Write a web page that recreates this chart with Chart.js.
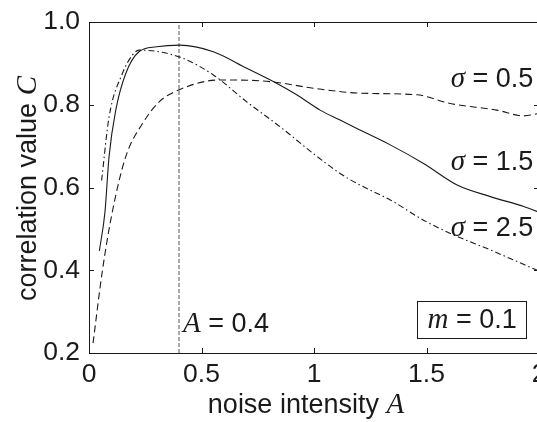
<!DOCTYPE html>
<html>
<head>
<meta charset="utf-8">
<script src="https://cdn.jsdelivr.net/npm/chart.js@4.4.1/dist/chart.umd.min.js"></script>
<style>
    html, body { margin: 0; padding: 0; background: #fff; overflow: hidden; }
    #wrap { width: 537px; height: 422px; overflow: hidden; }
</style>
</head>
<body>
<div id="wrap"><canvas id="chart" width="548" height="422"></canvas></div>
<script>
// values: noise intensity A and correlation value C per curve
const sigma05A = [0.018, 0.059, 0.104, 0.163, 0.237, 0.312, 0.404, 0.582, 0.804, 0.997, 1.204, 1.458, 1.606, 1.813, 1.932, 2.0];
const sigma05C = [0.224, 0.397, 0.542, 0.674, 0.754, 0.807, 0.837, 0.860, 0.856, 0.840, 0.828, 0.824, 0.803, 0.787, 0.773, 0.779];

const sigma15A = [0.046, 0.071, 0.089, 0.119, 0.163, 0.222, 0.30, 0.404, 0.553, 0.701, 0.819, 0.923, 1.027, 1.116, 1.204, 1.339, 1.487, 1.636, 1.784, 1.932, 2.0];
const sigma15C = [0.447, 0.541, 0.674, 0.787, 0.875, 0.928, 0.940, 0.944, 0.928, 0.888, 0.856, 0.824, 0.787, 0.763, 0.739, 0.703, 0.658, 0.606, 0.578, 0.554, 0.540];

const sigma25A = [0.056, 0.089, 0.148, 0.193, 0.222, 0.312, 0.419, 0.553, 0.701, 0.849, 0.997, 1.116, 1.204, 1.339, 1.487, 1.606, 1.784, 2.0];
const sigma25C = [0.617, 0.770, 0.875, 0.920, 0.932, 0.928, 0.912, 0.872, 0.807, 0.747, 0.682, 0.634, 0.606, 0.570, 0.521, 0.489, 0.449, 0.398];

const markerA = 0.4;
const xTicks = [0, 0.5, 1, 1.5, 2];
const yTicks = [0.2, 0.4, 0.6, 0.8, 1.0];

const curveLabels = ['0.5', '1.5', '2.5'];
const mValue = '0.1';

const SANS = '"Liberation Sans", Arial, Helvetica, sans-serif';
const SERIF = '"Liberation Serif", "Times New Roman", serif';
const INK = '#1a1a1a';

function pts(xs, ys) {
    return xs.map((x, i) => ({ x: x, y: ys[i] }));
}

// text runs with mixed fonts (italic serif symbols, sans numbers)
function richWidth(ctx, parts) {
    let w = 0;
    parts.forEach(p => { ctx.font = p.font; w += ctx.measureText(p.t).width; });
    return w;
}
function drawRich(ctx, parts, x, y) {
    let cx = x;
    parts.forEach(p => {
        ctx.font = p.font;
        ctx.fillText(p.t, cx, y);
        cx += ctx.measureText(p.t).width;
    });
}

const sans = '27px ' + SANS;
const ital = 'italic 29px ' + SERIF;

const decorPlugin = {
    id: 'decor',
    afterDatasetsDraw(chart) {
        const ctx = chart.ctx;
        const a = chart.chartArea;
        const xs = chart.scales.x;
        const ys = chart.scales.y;
        ctx.save();
        ctx.strokeStyle = INK;
        ctx.fillStyle = INK;
        ctx.lineWidth = 1;

        // frame
        ctx.strokeRect(a.left + 0.5, a.top + 0.5, a.right - a.left, a.bottom - a.top);

        // inward ticks on all four sides
        const tl = 5;
        ctx.beginPath();
        xTicks.forEach(v => {
            const px = Math.round(xs.getPixelForValue(v)) + 0.5;
            ctx.moveTo(px, a.bottom); ctx.lineTo(px, a.bottom - tl);
            ctx.moveTo(px, a.top); ctx.lineTo(px, a.top + tl);
        });
        yTicks.forEach(v => {
            const py = Math.round(ys.getPixelForValue(v)) + 0.5;
            ctx.moveTo(a.left, py); ctx.lineTo(a.left + tl, py);
            ctx.moveTo(a.right, py); ctx.lineTo(a.right - tl, py);
        });
        ctx.stroke();

        ctx.textBaseline = 'alphabetic';

        // sigma labels, right aligned near the right edge
        const labelC = [0.843, 0.642, 0.483];
        curveLabels.forEach((s, i) => {
            const parts = [{ t: '\u03C3', font: ital }, { t: ' = ' + s, font: sans }];
            const w = richWidth(ctx, parts);
            const right = xs.getPixelForValue(1.975);
            drawRich(ctx, parts, right - w, ys.getPixelForValue(labelC[i]));
        });

        // A = 0.4 next to the marker line
        drawRich(ctx, [{ t: 'A', font: ital }, { t: ' = ' + markerA, font: sans }],
            xs.getPixelForValue(markerA) + 4, ys.getPixelForValue(0.251));

        // boxed m = 0.1
        const mParts = [{ t: 'm', font: ital }, { t: ' = ' + mValue, font: sans }];
        const mw = richWidth(ctx, mParts);
        const boxRight = Math.round(xs.getPixelForValue(1.944)) + 0.5;
        const boxBottom = Math.round(ys.getPixelForValue(0.2355)) + 0.5;
        const boxW = Math.round(mw + 20);
        const boxH = 37;
        ctx.fillStyle = '#fff';
        ctx.fillRect(boxRight - boxW, boxBottom - boxH, boxW, boxH);
        ctx.strokeRect(boxRight - boxW, boxBottom - boxH, boxW, boxH);
        ctx.fillStyle = INK;
        drawRich(ctx, mParts, boxRight - boxW + 10, boxBottom - 10.5);

        // axis titles
        const xt = [{ t: 'noise intensity ', font: sans }, { t: 'A', font: ital }];
        const xw = richWidth(ctx, xt);
        drawRich(ctx, xt, 306 - xw / 2, 413);

        const yt = [{ t: 'correlation value ', font: sans }, { t: 'C', font: ital }];
        const yw = richWidth(ctx, yt);
        ctx.translate(36, (a.top + a.bottom) / 2 + 1);
        ctx.rotate(-Math.PI / 2);
        drawRich(ctx, yt, -yw / 2, 0);

        ctx.restore();
    }
};

const lineStyle = {
    borderColor: INK,
    borderWidth: 1.1,
    pointRadius: 0,
    fill: false,
    cubicInterpolationMode: 'monotone',
};

new Chart(document.getElementById('chart'), {
    type: 'line',
    data: {
        datasets: [
            Object.assign({ label: 'sigma 0.5', data: pts(sigma05A, sigma05C), borderDash: [7, 4] }, lineStyle),
            Object.assign({ label: 'sigma 1.5', data: pts(sigma15A, sigma15C) }, lineStyle),
            Object.assign({ label: 'sigma 2.5', data: pts(sigma25A, sigma25C), borderDash: [6, 3, 1.5, 3] }, lineStyle),
            {
                label: 'A marker',
                data: pts([markerA, markerA], [yTicks[0], yTicks[yTicks.length - 1]]),
                borderColor: '#555',
                borderWidth: 1,
                borderDash: [4, 2],
                pointRadius: 0,
            },
        ],
    },
    options: {
        responsive: false,
        animation: false,
        events: [],
        layout: { padding: { top: 22, right: 9, left: 0, bottom: 0 } },
        plugins: {
            legend: { display: false },
            tooltip: { enabled: false },
        },
        scales: {
            x: {
                type: 'linear',
                min: 0,
                max: 2,
                grid: { display: false, drawTicks: false },
                border: { display: false },
                afterFit: (s) => {
                    s.height = 69;
                    s.paddingLeft = 0;
                    s.paddingRight = 0;
                },
                afterBuildTicks: (s) => { s.ticks = xTicks.map(v => ({ value: v })); },
                ticks: {
                    color: INK,
                    padding: 6,
                    maxRotation: 0,
                    font: { family: SANS, size: 26.5 },
                    callback: (v) => String(v),
                },
            },
            y: {
                type: 'linear',
                min: 0.2,
                max: 1.0,
                grid: { display: false, drawTicks: false },
                border: { display: false },
                afterFit: (s) => {
                    s.width = 89;
                    s.paddingTop = 0;
                    s.paddingBottom = 0;
                },
                afterBuildTicks: (s) => { s.ticks = yTicks.map(v => ({ value: v })); },
                ticks: {
                    color: INK,
                    padding: 9,
                    font: { family: SANS, size: 26.5 },
                    callback: (v) => Number(v).toFixed(1),
                },
            },
        },
    },
    plugins: [decorPlugin],
});
</script>
</body>
</html>
